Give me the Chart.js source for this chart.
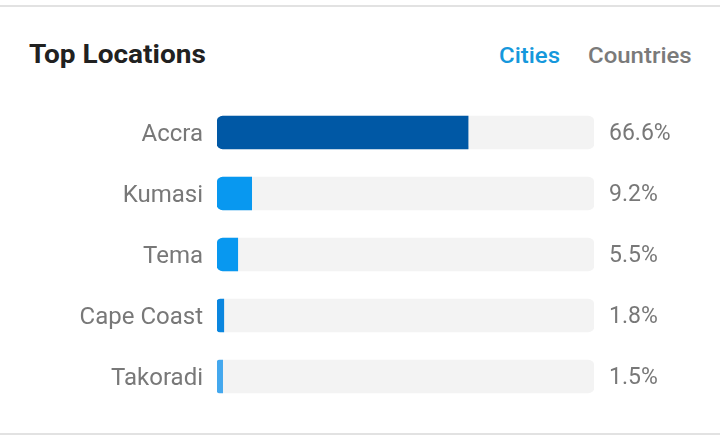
<!DOCTYPE html>
<html lang="en">
  <head>
    <meta charset="UTF-8" />
    <title>Top Locations</title>
    <style>
      html, body { margin: 0; padding: 0; background: #fff; }
      body { width: 720px; height: 448px; position: relative; overflow: hidden; font-family: Roboto, sans-serif; }
      .line { position: absolute; left: 0; width: 720px; height: 2px; background: #e2e2e2; }
      #title { position: absolute; left: 29px; top: 40px; font-size: 25px; font-weight: 700; color: #212121; transform: scaleX(1.12); transform-origin: left center; }
      .tab { position: absolute; top: 43px; font-size: 22px; font-weight: 500; transform: scaleX(1.09); transform-origin: left center; }
      #cities { left: 499px; color: #1598dc; }
      #countries { left: 588px; color: #7a7a7a; }
      #wrap { position: absolute; left: 0; top: 0; width: 720px; height: 448px; }
    </style>
  </head>
  <body>
    <div class="line" style="top:5px"></div>
    <div class="line" style="top:433px"></div>
    <div id="title">Top Locations</div>
    <div class="tab" id="cities">Cities</div>
    <div class="tab" id="countries">Countries</div>
    <div id="wrap"><canvas id="chart"></canvas></div>
    <script src="https://cdn.jsdelivr.net/npm/chart.js"></script>
    <script>
      // 도시별 비율 (%)
      const cities = ["Accra", "Kumasi", "Tema", "Cape Coast", "Takoradi"];
      const shares = [66.6, 9.2, 5.5, 1.8, 1.5];
      const barColors = ["#0058a5", "#0898f0", "#0898f0", "#0a86df", "#44a8ee"];
      const trackValues = [100, 100, 100, 100, 100];

      new Chart(document.getElementById("chart"), {
        type: "bar",
        data: {
          labels: cities,
          datasets: [
            {
              data: shares,
              backgroundColor: barColors,
              borderRadius: { topLeft: 6, bottomLeft: 6, topRight: 0, bottomRight: 0 },
              borderSkipped: false,
              barThickness: 33,
              grouped: false,
              order: 1,
            },
            {
              data: trackValues,
              backgroundColor: "#f3f3f3",
              borderRadius: 6,
              borderSkipped: false,
              barThickness: 33,
              grouped: false,
              order: 2,
            },
          ],
        },
        options: {
          indexAxis: "y",
          responsive: true,
          maintainAspectRatio: false,
          animation: false,
          layout: { padding: { top: 102, bottom: 41, left: 0, right: 0 } },
          plugins: { legend: { display: false }, tooltip: { enabled: false } },
          scales: {
            x: { min: 0, max: 100, display: false },
            y: {
              position: "left",
              grid: { display: false },
              border: { display: false },
              ticks: { color: "#787878", font: { family: "Roboto", size: 24 }, padding: 6, labelOffset: 2 },
              afterFit: (s) => { s.width = 217; },
            },
            y2: {
              type: "category",
              labels: cities,
              position: "right",
              grid: { display: false },
              border: { display: false },
              ticks: {
                color: "#787878",
                font: { family: "Roboto", size: 23 },
                padding: 7,
                labelOffset: 2,
                callback: (v, i) => shares[i].toFixed(1) + "%",
              },
              afterFit: (s) => { s.width = 126; },
            },
          },
        },
      });
    </script>
  </body>
</html>
